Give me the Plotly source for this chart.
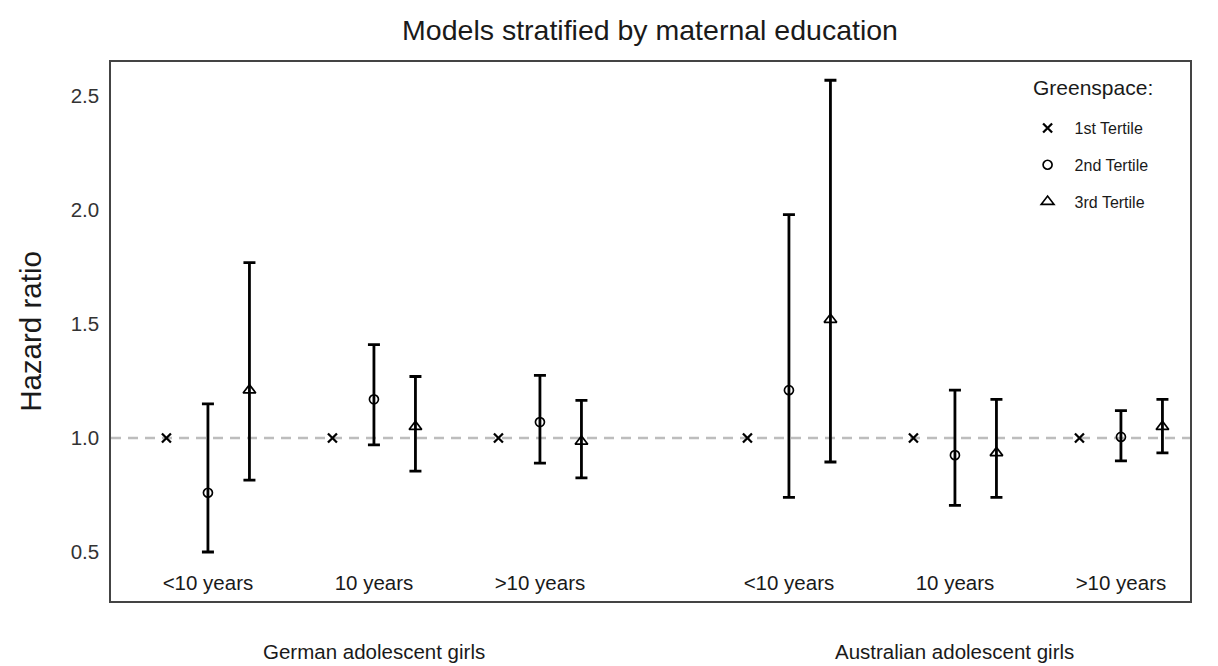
import plotly.graph_objects as go

# ---- data ----
categories = ["<10 years", "10 years", ">10 years"]
cohorts = ["German adolescent girls", "Australian adolescent girls"]
tertiles = ["1st Tertile", "2nd Tertile", "3rd Tertile"]

# reference tertile: HR = 1 (no CI)
german_t1_hr = [1.0, 1.0, 1.0]
german_t2_hr = [0.76, 1.17, 1.07]
german_t2_lo = [0.50, 0.97, 0.89]
german_t2_hi = [1.15, 1.41, 1.275]
german_t3_hr = [1.21, 1.05, 0.985]
german_t3_lo = [0.815, 0.855, 0.825]
german_t3_hi = [1.77, 1.27, 1.165]

aus_t1_hr = [1.0, 1.0, 1.0]
aus_t2_hr = [1.21, 0.925, 1.005]
aus_t2_lo = [0.74, 0.705, 0.90]
aus_t2_hi = [1.98, 1.21, 1.12]
aus_t3_hr = [1.52, 0.935, 1.05]
aus_t3_lo = [0.895, 0.74, 0.935]
aus_t3_hi = [2.57, 1.17, 1.17]

yticks = [0.5, 1.0, 1.5, 2.0, 2.5]
yticklabels = ["0.5", "1.0", "1.5", "2.0", "2.5"]

# ---- layout positions (category slots) ----
group_centers = [[1, 2, 3], [4.5, 5.5, 6.5]]
offsets = [-0.25, 0.0, 0.25]
symbols = ["x-thin-open", "circle-open", "triangle-up-open"]
sizes = [9, 9, 11]

FONT = "Liberation Sans, Arial, Helvetica, sans-serif"

fig = go.Figure()

series = [
    (german_t1_hr, None, None, aus_t1_hr, None, None),
    (german_t2_hr, german_t2_lo, german_t2_hi, aus_t2_hr, aus_t2_lo, aus_t2_hi),
    (german_t3_hr, german_t3_lo, german_t3_hi, aus_t3_hr, aus_t3_lo, aus_t3_hi),
]

for i, (ghr, glo, ghi, ahr, alo, ahi) in enumerate(series):
    xs = [c + offsets[i] for c in group_centers[0]] + [c + offsets[i] for c in group_centers[1]]
    ys = ghr + ahr
    kw = {}
    if glo is not None:
        lo = glo + alo
        hi = ghi + ahi
        kw["error_y"] = dict(
            type="data", symmetric=False,
            array=[h - y for h, y in zip(hi, ys)],
            arrayminus=[y - l for l, y in zip(lo, ys)],
            color="black", thickness=2.8, width=6,
        )
    fig.add_trace(go.Scatter(
        x=xs, y=ys, mode="markers", name=tertiles[i],
        legendgroup=tertiles[i],
        marker=dict(symbol=symbols[i], size=sizes[i], color="black",
                    line=dict(color="black", width=2.3 if i == 0 else 1.7)),
        **kw,
    ))

# reference line at HR = 1
fig.add_shape(type="line", xref="paper", yref="y", x0=0, x1=1, y0=1, y1=1,
              line=dict(color="#bdbdbd", width=2.5, dash="10px,7px"), layer="below")

# cohort labels
for c, name in zip(group_centers, cohorts):
    fig.add_annotation(x=c[1], y=-0.094, xref="x", yref="paper", text=name,
                       showarrow=False, font=dict(family=FONT, size=20.5, color="#1a1a1a"),
                       yanchor="middle")

# legend heading
fig.add_annotation(x=0.8526, y=0.9518, xref="paper", yref="paper", text="Greenspace:",
                   showarrow=False, xanchor="left", yanchor="middle",
                   font=dict(family=FONT, size=21, color="#1a1a1a"))

tickvals = group_centers[0] + group_centers[1]
ticktext = categories + categories

# the page body adds an 8px offset, so the figure is sized to fit the window
fig.update_layout(
    width=1210, height=658,
    margin=dict(l=103, r=28, t=54, b=65),
    paper_bgcolor="white", plot_bgcolor="white",
    font=dict(family=FONT, color="#1a1a1a"),
    title=dict(text="Models stratified by maternal education", x=0.5306, xanchor="center",
               y=0.9666, yanchor="middle", font=dict(family=FONT, size=28.5, color="#1a1a1a")),
    showlegend=True,
    legend=dict(
        x=0.843, y=0.909, xanchor="left", yanchor="top",
        font=dict(family=FONT, size=16, color="#1a1a1a"),
        tracegroupgap=13, bgcolor="rgba(0,0,0,0)", itemwidth=44,
    ),
    xaxis=dict(range=[0.416, 6.916], tickvals=tickvals, ticktext=ticktext,
               ticklabelposition="inside", ticklabelstandoff=8, ticks="", showgrid=False,
               zeroline=False, automargin=False,
               showline=True, linecolor="#444", linewidth=1.5, mirror=True,
               tickfont=dict(family=FONT, size=20.5, color="#1a1a1a")),
    yaxis=dict(range=[0.285, 2.65], tickvals=yticks, ticktext=yticklabels,
               ticks="", showgrid=False, zeroline=False, automargin=False,
               ticklabelstandoff=6,
               showline=True, linecolor="#444", linewidth=1.5, mirror=True,
               tickfont=dict(family=FONT, size=20.5, color="#333"),
               title=dict(text="Hazard ratio", font=dict(family=FONT, size=29.5, color="#1a1a1a"),
                          standoff=20)),
)

fig.write_html("out.html")
